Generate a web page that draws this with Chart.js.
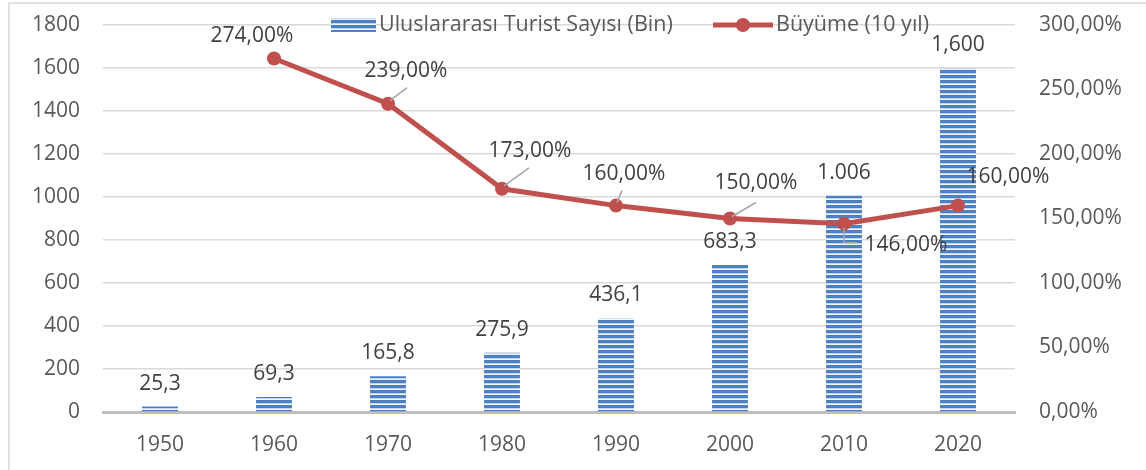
<!DOCTYPE html>
<html>
<head>
<meta charset="utf-8">
<script src="https://cdn.jsdelivr.net/npm/chart.js@4.4.1/dist/chart.umd.min.js"></script>
<style>
html,body{margin:0;padding:0;background:#fff;}
#wrap{width:1146px;height:470px;position:relative;}
</style>
</head>
<body>
<div id="wrap"><canvas id="c" width="1146" height="470"></canvas></div>
<script>
// ---- data ----
const categories = ['1950','1960','1970','1980','1990','2000','2010','2020'];
const touristValues = [25.3, 69.3, 165.8, 275.9, 436.1, 683.3, 1006, 1600];
const touristLabels = ['25,3','69,3','165,8','275,9','436,1','683,3','1.006','1,600'];
const growthValues = [null, 274, 239, 173, 160, 150, 146, 160];
const seriesNames = ['Uluslararası Turist Sayısı (Bin)', 'Büyüme (10 yıl)'];
const leftTicks = [0,200,400,600,800,1000,1200,1400,1600,1800];
const rightTicks = [0,50,100,150,200,250,300];

// ---- styles ----
const FONT = '"Open Sans", Lato, sans-serif';
const FS = 21;
const BLUE = '#4a7dbf';
const RED = '#c0504d';

// label offsets (label centre relative to point) and leader lines
const growthLabelStyle = [
  null,
  {dx:-22, dy:-23, leader:null},
  {dx:18, dy:-33, leader:[[2,-3],[19,-16]]},
  {dx:28, dy:-38, leader:[[2,-3],[27,-21]]},
  {dx:8, dy:-32, leader:[[1,-3],[6,-15]]},
  {dx:26, dy:-35, leader:[[2,-2],[26,-16]]},
  {dx:62, dy:21, leader:[[0,4],[0,19],[13,19]]},
  {dx:50, dy:-29, leader:null}
];

function makePattern(){
  const pc = document.createElement('canvas');
  pc.width = 4; pc.height = 5;
  const g = pc.getContext('2d');
  g.fillStyle = BLUE; g.fillRect(0,0,4,5);
  g.fillStyle = '#4f86c9'; g.fillRect(0,1,4,1);
  g.fillStyle = '#c5d5ec'; g.fillRect(0,3,4,1);
  g.fillStyle = '#f2f6fb'; g.fillRect(0,4,4,1);
  return g.createPattern(pc,'repeat');
}
const barPattern = makePattern();

function fmtPct(v){ return v.toFixed(2).replace('.',',') + '%'; }

const labelsPlugin = {
  id:'labels',
  beforeDraw(chart){
    const ctx = chart.ctx;
    ctx.save();
    ctx.strokeStyle = '#d9d9d9';
    ctx.lineWidth = 1.5;
    ctx.strokeRect(9, 3, 1200, 600);
    ctx.restore();
  },
  afterDatasetsDraw(chart){
    const ctx = chart.ctx;
    ctx.save();
    const barMeta = chart.getDatasetMeta(0);
    ctx.font = FS + 'px ' + FONT;
    ctx.fillStyle = '#404040';
    ctx.textAlign = 'center';
    ctx.textBaseline = 'alphabetic';
    barMeta.data.forEach((el,i)=>{
      ctx.fillText(touristLabels[i], el.x, el.y - 17);
    });
    const lineMeta = chart.getDatasetMeta(1);
    ctx.textBaseline = 'middle';
    lineMeta.data.forEach((el,i)=>{
      const st = growthLabelStyle[i];
      if (growthValues[i] == null || !st) return;
      if (st.leader){
        ctx.strokeStyle = '#a6a6a6';
        ctx.lineWidth = 1.5;
        ctx.beginPath();
        st.leader.forEach((p,k)=>{
          if (k===0) ctx.moveTo(el.x+p[0], el.y+p[1]); else ctx.lineTo(el.x+p[0], el.y+p[1]);
        });
        ctx.stroke();
      }
      ctx.fillStyle = '#404040';
      ctx.fillText(fmtPct(growthValues[i]), el.x + st.dx, el.y + st.dy);
    });
    ctx.restore();
  },
  afterDraw(chart){
    const ctx = chart.ctx;
    ctx.save();
    ctx.fillStyle = barPattern;
    ctx.fillRect(331, 18, 45, 14);
    ctx.font = '21.5px ' + FONT;
    ctx.fillStyle = '#595959';
    ctx.textAlign = 'left';
    ctx.textBaseline = 'middle';
    ctx.fillText(seriesNames[0], 379, 25);
    ctx.strokeStyle = RED;
    ctx.lineWidth = 5;
    ctx.beginPath(); ctx.moveTo(713,25); ctx.lineTo(773,25); ctx.stroke();
    ctx.fillStyle = RED;
    ctx.beginPath(); ctx.arc(743,25,7,0,Math.PI*2); ctx.fill();
    ctx.fillStyle = '#595959';
    ctx.fillText(seriesNames[1], 776, 25);
    ctx.restore();
  }
};

function fixPad(s){ s.paddingTop = 12; s.paddingBottom = 12; }

new Chart(document.getElementById('c'), {
  data:{
    labels: categories,
    datasets:[
      {type:'bar', label:seriesNames[0], data:touristValues, backgroundColor:barPattern,
       borderWidth:0, barPercentage:0.315, categoryPercentage:1, yAxisID:'y', order:2},
      {type:'line', label:seriesNames[1], data:growthValues, borderColor:RED, backgroundColor:RED,
       borderWidth:5, pointRadius:7, pointHoverRadius:7, pointBackgroundColor:RED, pointBorderWidth:0,
       tension:0, yAxisID:'y2', order:1, spanGaps:false}
    ]
  },
  options:{
    responsive:false,
    animation:false,
    devicePixelRatio:1,
    layout:{padding:{left:0,right:0,top:25,bottom:0}},
    plugins:{legend:{display:false}, tooltip:{enabled:false}},
    scales:{
      x:{
        grid:{display:false, drawTicks:false},
        border:{display:true, color:'#bfbfbf', width:3},
        ticks:{color:'#595959', font:{family:FONT, size:FS}, padding:20, maxRotation:0},
        afterFit(s){ s.height = 58; }
      },
      y:{
        position:'left', min:0, max:1800,
        afterBuildTicks(s){ s.ticks = leftTicks.map(v=>({value:v})); },
        grid:{color:'#d9d9d9', lineWidth:1.5, drawTicks:false},
        border:{display:false},
        ticks:{color:'#595959', font:{family:FONT, size:FS}, padding:23, callback:(v)=>String(v)},
        afterFit(s){ s.width = 103; fixPad(s); }
      },
      y2:{
        position:'right', min:0, max:300,
        afterBuildTicks(s){ s.ticks = rightTicks.map(v=>({value:v})); },
        grid:{display:false, drawTicks:false},
        border:{display:false},
        ticks:{color:'#595959', font:{family:FONT, size:FS}, padding:24, callback:(v)=>fmtPct(v)},
        afterFit(s){ s.width = 131; fixPad(s); }
      }
    }
  },
  plugins:[labelsPlugin]
});
</script>
</body>
</html>
